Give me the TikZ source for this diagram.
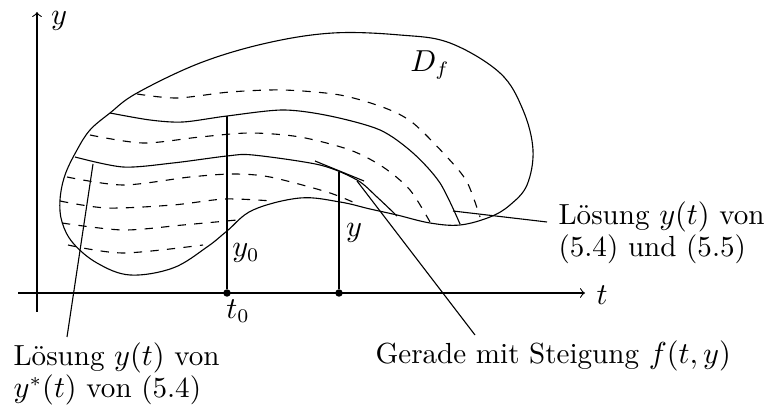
\documentclass[tikz,border=0pt]{standalone}
\begin{document}
\begin{tikzpicture}[x=0.0127cm,y=-0.0127cm,>=to,
  every node/.style={font=\fontsize{10.5}{11.6}\selectfont},
  lbl/.style={inner sep=0pt},
  txt/.style={inner sep=0pt,align=left,anchor=north west},
  aux/.style={dashed},
  dot/.style={circle,fill,inner sep=0pt,minimum size=2.7pt}]
\useasboundingbox (0,0) rectangle (765,407);
% axes
\coordinate (o1) at (18,293);
\coordinate (o2) at (585,293);
\coordinate (o3) at (37,312);
\coordinate (o4) at (37,12);
\draw[->] (o1)--(o2);
\draw[->] (o3)--(o4);
\node[lbl] (tlab) at (602,295) {$t$};
\node[lbl] (ylab) at (59,21) {$y$};
% domain
\draw plot[smooth cycle,tension=0.6] coordinates {(130,275) (97,263) (73,243) (62,222) (60,200) (65,175)
  (77,150) (90,130) (110,113) (137,93) (200,63) (267,43) (333,33) (400,35) (450,43) (500,73) (523,110)
  (533,150) (527,185) (510,205) (490,217) (460,225) (430,223) (397,215) (370,209) (340,202) (300,198)
  (253,210) (227,231) (207,247) (173,268)};
\node[lbl] (Df) at (430,65) {$D_f$};
% solutions
\draw plot[smooth] coordinates {(110,113) (150,120) (183,122) (227,116) (283,110) (330,116) (380,130)
  (413,153) (440,183) (460,224)};
\draw plot[smooth] coordinates {(75,157) (123,167) (173,163) (227,156) (253,155) (320,165) (357,180)
  (377,197) (397,216)};
\draw[aux] plot[smooth] coordinates {(137,94) (177,98) (230,92) (283,90) (340,95) (385,108) (413,123)
  (447,157) (467,182) (480,217)};
\draw[aux] plot[smooth] coordinates {(90,135) (143,143) (200,137) (250,133) (300,137) (350,150)
  (383,167) (410,190) (430,222)};
\draw[aux] plot[smooth] coordinates {(67,177) (123,185) (190,177) (233,174) (270,177) (327,192) (355,203)};
\draw[aux] plot[smooth] coordinates {(60,201) (107,208) (173,205) (225,199) (272,201)};
\draw[aux] plot[smooth] coordinates {(62,223) (123,230) (183,225) (237,220)};
\draw[aux] plot[smooth] coordinates {(68,245) (123,253) (203,245)};
% t0, y0
\node[dot] (t0) at (227,293) {};
\coordinate (p0) at (227,116);
\draw (p0)--(t0);
\node[lbl] (y0lab) at (246,253) {$y_0$};
\node[lbl] (t0lab) at (238,311) {$t_0$};
% point (t,y) with tangent
\node[dot] (t1) at (339,293) {};
\coordinate (p1) at (339,172);
\draw (p1)--(t1);
\node[lbl] (y1lab) at (354,233) {$y$};
\coordinate (ta) at (315,161);
\coordinate (tb) at (364,181);
\draw (ta)--(tb);
% labels
\node[txt] (lsgL) at (13,342) {L\"osung $y(t)$ von\\$y^*(t)$ von (5.4)};
\node[txt] (lsgR) at (558,201) {L\"osung $y(t)$ von\\(5.4) und (5.5)};
\node[lbl,anchor=base west] (ger) at (375,363) {Gerade mit Steigung $f(t,y)$};
\coordinate (qL) at (93,164);
\coordinate (eL) at (67,337);
\draw (qL)--(eL);
\coordinate (qR) at (453,211);
\coordinate (eR) at (547,222);
\draw (qR)--(eR);
\coordinate (qG) at (357,181);
\coordinate (eG) at (475,335);
\draw (qG)--(eG);
\end{tikzpicture}
\end{document}
